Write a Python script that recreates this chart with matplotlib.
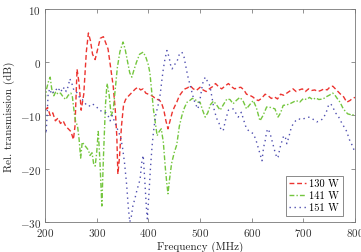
import numpy as np
import matplotlib
matplotlib.use('Agg')
import matplotlib.pyplot as plt

plt.rcParams['font.family'] = ['cmr10']
plt.rcParams['mathtext.fontset'] = 'cm'
plt.rcParams['axes.formatter.use_mathtext'] = True

# 130 W
f_130 = [200, 205, 210, 215, 220, 225, 230, 235, 240, 245, 250, 255, 258, 262, 266, 270, 275, 280, 284, 288,
         292, 297, 302, 307, 313, 318, 322, 327, 332, 336, 339, 341, 344, 348, 352, 356, 360, 365, 370, 375,
         380, 385, 390, 395, 400, 405, 410, 415, 420, 425, 430, 434, 438, 442, 446, 450, 455, 460, 466, 471,
         476, 481, 487, 493, 500, 506, 512, 518, 524, 530, 536, 542, 548, 555, 561, 567, 573, 579, 585, 590,
         596, 602, 608, 613, 619, 626, 632, 638, 644, 650, 656, 662, 668, 674, 680, 686, 692, 698, 704, 710,
         716, 722, 728, 734, 740, 746, 752, 757, 762, 767, 772, 778, 784, 790, 795, 800]
db_130 = [-9, -8.5, -10, -9.5, -11, -10.5, -11.5, -11, -12, -12.5, -13, -14.5, -12, -1.3, -4, -9, -6, 2, 5.5, 4,
          1.5, 0.5, 2.5, 4.5, 4.8, 3.5, 2.5, -1, -4.5, -9, -14, -21, -18, -12, -8, -7, -6.5, -6, -5.5, -5,
          -4.7, -5.2, -5, -5.8, -6, -6.2, -6.5, -7, -7, -7.5, -9, -11, -12.5, -11, -9.5, -8.5, -7.5, -6.3, -5.5, -5,
          -4.8, -4.4, -5, -5.3, -4.7, -5.2, -5.5, -5, -4.6, -4, -4.6, -5, -4.5, -4, -4.6, -5, -4.8, -4.7, -5.2, -6,
          -6.2, -6.5, -7, -7.2, -6.8, -6, -6.3, -6.8, -6.5, -6.9, -6, -6.2, -5.8, -5.4, -5, -5.5, -5.2, -5, -5.5, -5,
          -5.3, -5.2, -5.5, -5.3, -5, -5.2, -4.6, -4.5, -5, -5.5, -6, -6.5, -7.5, -7.2, -6.8, -6.6]

# 141 W
f_141 = [200, 203, 207, 210, 213, 217, 221, 225, 230, 235, 240, 245, 250, 253, 256, 259, 263, 266, 269, 272,
         276, 280, 284, 287, 291, 294, 297, 300, 303, 306, 310, 313, 317, 320, 324, 328, 332, 336, 340, 345,
         351, 355, 360, 364, 368, 372, 377, 383, 390, 395, 400, 403, 407, 410, 413, 417, 421, 425, 429, 433,
         436, 438, 441, 445, 450, 455, 460, 465, 470, 475, 480, 485, 490, 495, 500, 505, 510, 515, 520, 526,
         532, 539, 545, 552, 558, 564, 570, 577, 583, 590, 596, 603, 609, 616, 622, 629, 637, 645, 651, 656,
         661, 668, 674, 680, 686, 693, 700, 706, 712, 718, 724, 730, 738, 744, 750, 757, 762, 767, 771, 776,
         781, 786, 790, 795, 800]
db_141 = [-7, -5, -3.5, -2.8, -5, -6.3, -5.5, -6, -5.8, -6.5, -7, -6.2, -5.8, -6.5, -9, -11, -12, -14.5, -18, -15,
          -15.5, -16, -16.5, -17.5, -17, -19, -19.5, -17, -13, -18, -27, -18, -8, -4, -6, -10, -9, -5, -1, 2,
          3.8, 2.5, 0, -2, -2.8, -1.5, 0, 1.5, 1.9, 1, -0.5, -2, -6, -9, -11, -13.8, -13, -12.5, -15, -20,
          -23, -24.7, -22, -19, -17, -15.5, -12, -10, -8.5, -7.5, -7.2, -6.8, -6.9, -7.5, -7.5, -9, -10.3, -9.5, -8, -7.3,
          -8, -9, -8, -6.9, -7, -7.8, -7.2, -6.6, -7.2, -8.75, -8, -7.2, -8.5, -11, -10, -8.4, -8.5, -8.75, -10.3, -9.5,
          -8.1, -8, -7.8, -7.5, -7.2, -7.5, -6.8, -7, -6.6, -7, -6.7, -7, -6.9, -6.5, -6.2, -5.8, -6.3, -7, -7.5, -8.5,
          -9.2, -9.7, -9.8, -10, -9.5]

# 151 W
f_151 = [200, 202, 204, 206, 209, 213, 217, 221, 225, 229, 233, 237, 241, 245, 248, 252, 256, 260, 264, 268,
         272, 276, 280, 285, 290, 295, 300, 305, 310, 313, 318, 322, 326, 330, 334, 338, 342, 346, 350, 354,
         358, 361, 364, 367, 370, 374, 378, 381, 384, 387, 390, 393, 396, 398, 401, 404, 407, 410, 414, 419,
         423, 426, 429, 432, 436, 440, 443, 446, 450, 455, 460, 465, 469, 472, 476, 480, 484, 488, 492, 496,
         500, 505, 510, 514, 519, 523, 527, 532, 537, 541, 545, 549, 555, 560, 564, 569, 574, 580, 585, 590,
         596, 603, 608, 613, 617, 620, 623, 626, 629, 632, 636, 640, 645, 649, 651, 655, 658, 662, 665, 668,
         672, 676, 680, 685, 690, 697, 703, 709, 715, 720, 726, 732, 738, 744, 749, 753, 757, 762, 767, 772,
         778, 784, 789, 794, 797, 800]
db_151 = [-12, -13.4, -10, -6, -5, -6, -5.5, -5, -5.5, -4.8, -5.5, -4.7, -5.5, -4.5, -3.1, -4, -5.3, -5.5, -6, -6.9,
          -7, -7.5, -8, -8.3, -7.8, -8, -8.4, -9, -9.2, -9.4, -9.5, -10, -11, -10, -11, -12, -13, -14, -16, -19,
          -23, -27, -30, -29, -27, -25.6, -24, -23, -22, -19, -17.5, -22, -27, -29.4, -25, -20, -16, -13, -10, -8,
          -6, -3.5, -1.25, 0.5, 2.2, 1, -0.5, -1.25, -0.5, 0, 1.5, 1.9, 1, -0.5, -2.5, -4, -5.5, -7, -8, -8.75,
          -7, -4, -2.8, -3.5, -4.4, -6.5, -8.75, -10.5, -11.5, -12.8, -12.8, -11, -9, -8.8, -8.75, -9.5, -10.3, -9.4, -11, -12.5,
          -13, -13.4, -14.5, -16.2, -17.5, -18.5, -16, -14.8, -13, -12.5, -13.5, -15, -16.8, -18, -17.8, -16, -15, -13.8, -14, -15.3,
          -14, -12.5, -11.6, -11, -10.6, -10.8, -10.5, -10.3, -10.4, -10.8, -11.2, -11, -10.6, -9.5, -8, -7.8, -8.4, -9.5, -10, -11,
          -12, -13, -14.5, -15.5, -16.2, -17]

fig = plt.figure(figsize=(3.61, 2.53), dpi=100)
ax = fig.add_axes([0.1247, 0.1186, 0.8587, 0.8419])

ax.plot(f_130, db_130, color='#ec3430', lw=1.0, ls=(0, (3.5, 2)), label='130 W')
ax.plot(f_141, db_141, color='#74c63e', lw=1.0, ls=(0, (3.5, 1.5, 1, 1.5)), label='141 W')
ax.plot(f_151, db_151, color='#5050b0', lw=1.0, ls=(0, (1, 2.6)), label='151 W')

ax.set_xlim(200, 800)
ax.set_ylim(-30, 10)
ax.set_xticks([200, 300, 400, 500, 600, 700, 800])
ax.set_yticks([-30, -20, -10, 0, 10])
ax.tick_params(direction='in', top=True, right=True, length=3, width=0.5, labelsize=8, pad=3,
               colors='#666666', labelcolor='#333333')
for s in ax.spines.values():
    s.set_linewidth(0.6)
    s.set_color('#777777')

ax.set_xlabel('Frequency (MHz)', fontsize=8, labelpad=2, color='#222222')
ax.set_ylabel('Rel. transmission (dB)', fontsize=8, labelpad=3, color='#222222')

leg = ax.legend(loc='lower right', fontsize=7.5, fancybox=False, edgecolor='#555555',
                handlelength=1.6, handletextpad=0.35, borderpad=0.3, labelspacing=0.25,
                borderaxespad=0, bbox_to_anchor=(0.96, 0.03))
leg.get_frame().set_linewidth(0.6)

fig.savefig('out.png', dpi=100)
